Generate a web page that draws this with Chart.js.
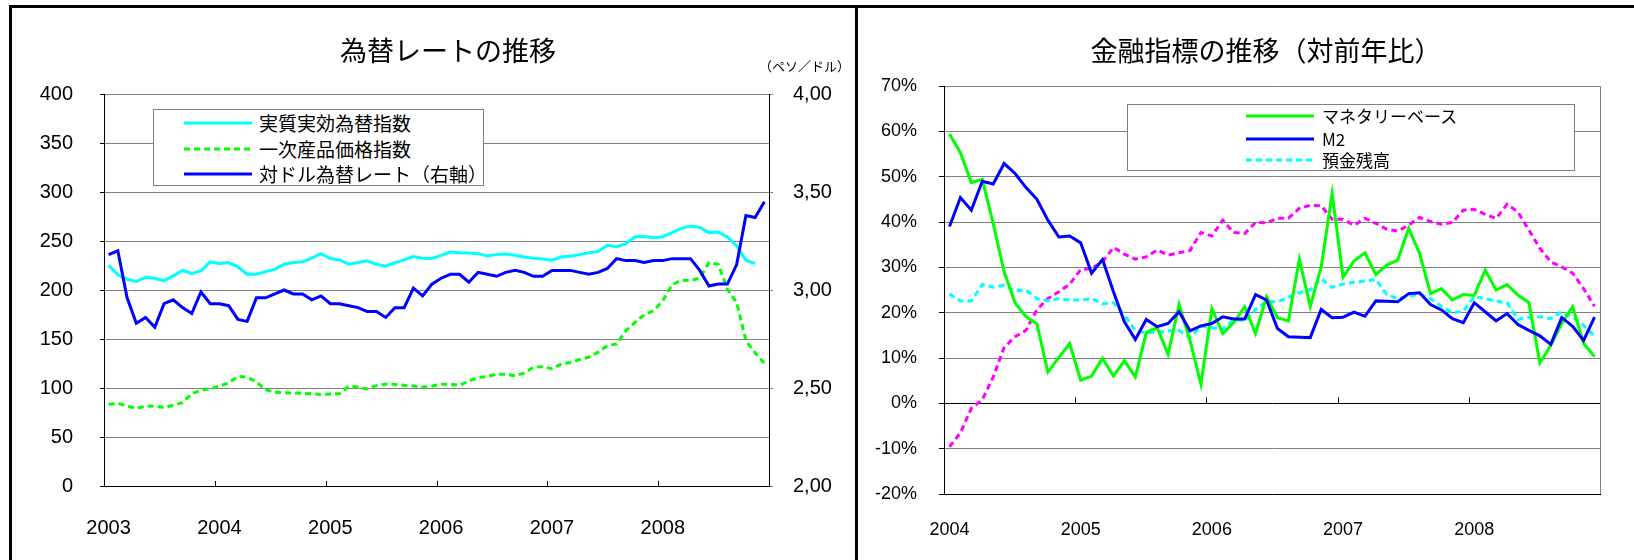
<!DOCTYPE html>
<html>
<head>
<meta charset="utf-8">
<script src="https://cdn.jsdelivr.net/npm/chart.js@4.4.1/dist/chart.umd.min.js"></script>
<style>
html,body{margin:0;padding:0;background:#fff;}
#page{position:relative;width:1634px;height:560px;overflow:hidden;background:#fff;}
.bar{position:absolute;background:#000;}
.cbox{position:absolute;top:0;height:560px;}
.title{position:absolute;font-family:"Noto Sans CJK JP",sans-serif;color:#000;white-space:nowrap;transform:translate(-50%,-50%);line-height:1;}
.unit{position:absolute;font-family:"Noto Sans CJK JP",sans-serif;color:#000;white-space:nowrap;line-height:1;}
.legend{position:absolute;border:1px solid #808080;background:#fff;box-sizing:border-box;}
.legend svg{position:absolute;}
.legend span{position:absolute;font-family:"Noto Sans CJK JP",sans-serif;color:#000;white-space:nowrap;}
</style>
</head>
<body>
<div id="page">
  <div class="bar" style="left:9px;top:5px;width:1625px;height:3px;"></div>
  <div class="bar" style="left:9px;top:5px;width:3px;height:555px;"></div>
  <div class="bar" style="left:855px;top:5px;width:3px;height:555px;"></div>

  <div class="cbox" style="left:0;width:855px;"><canvas id="c1" width="855" height="560"></canvas></div>
  <div class="cbox" style="left:858px;width:776px;"><canvas id="c2" width="776" height="560"></canvas></div>

  <div class="title" style="left:448px;top:49px;font-size:27px;">為替レートの推移</div>
  <div class="unit" style="left:759px;top:59px;font-size:13px;">（ペソ／ドル）</div>
  <div class="title" style="left:1266px;top:49px;font-size:27px;">金融指標の推移（対前年比）</div>

  <div class="legend" style="left:153px;top:109px;width:331px;height:77px;">
    <svg style="left:30px;top:10px" width="68" height="6"><line x1="0" y1="3" x2="68" y2="3" stroke="#00ffff" stroke-width="3"/></svg>
    <span style="left:105px;top:1px;font-size:19px;line-height:24px;">実質実効為替指数</span>
    <svg style="left:30px;top:36px" width="68" height="6"><line x1="0" y1="3" x2="68" y2="3" stroke="#00ff00" stroke-width="3" stroke-dasharray="6 4"/></svg>
    <span style="left:105px;top:27px;font-size:19px;line-height:24px;">一次産品価格指数</span>
    <svg style="left:30px;top:61px" width="68" height="6"><line x1="0" y1="3" x2="68" y2="3" stroke="#0000ff" stroke-width="3"/></svg>
    <span style="left:105px;top:52px;font-size:19px;line-height:24px;">対ドル為替レート（右軸）</span>
  </div>

  <div class="legend" style="left:1127px;top:104px;width:448px;height:67px;">
    <svg style="left:118px;top:8px" width="68" height="6"><line x1="0" y1="3" x2="68" y2="3" stroke="#00ff00" stroke-width="3"/></svg>
    <span style="left:194px;top:0px;font-size:17px;line-height:22px;">マネタリーベース</span>
    <svg style="left:118px;top:31px" width="68" height="6"><line x1="0" y1="3" x2="68" y2="3" stroke="#0000ff" stroke-width="3"/></svg>
    <span style="left:194px;top:23px;font-size:17px;line-height:22px;">M2</span>
    <svg style="left:118px;top:52px" width="68" height="6"><line x1="0" y1="3" x2="68" y2="3" stroke="#00ffff" stroke-width="3" stroke-dasharray="6 4"/></svg>
    <span style="left:194px;top:44px;font-size:17px;line-height:22px;">預金残高</span>
  </div>
</div>

<script>
// ---------- data ----------
const leftYears = ['2003','2004','2005','2006','2007','2008'];
const rightYears = ['2004','2005','2006','2007','2008'];

const leftAxisTicks = [0,50,100,150,200,250,300,350,400];
const rightAxisTicks = [2.0,2.5,3.0,3.5,4.0];
const pctAxisTicks = [-20,-10,0,10,20,30,40,50,60,70];

// 実質実効為替指数 (monthly 2003-01 .. 2008-12)
const realEffectiveIndex = [
  225.3,215.5,211.0,208.7,212.7,212.0,209.4,214.4,219.9,216.8,219.5,228.7,
  227.0,228.0,223.6,216.1,216.1,218.8,221.2,226.3,228.0,228.7,232.4,237.1,
  232.1,230.7,226.3,228.0,229.7,226.3,224.3,228.0,230.7,234.1,232.4,232.1,
  235.4,238.8,238.1,237.8,237.1,234.8,236.1,236.8,235.4,233.7,232.4,231.7,
  230.4,233.7,234.4,236.1,238.1,239.2,245.6,244.2,247.3,254.4,254.7,253.4,
  254.4,258.5,262.9,265.2,263.9,258.5,259.1,254.1,244.9,230.4,227.0,null
];
// 一次産品価格指数
const commodityIndex = [
  83.4,84.4,81.7,79.3,81.3,81.7,80.0,82.4,85.1,94.2,97.6,99.0,
  102.0,105.1,111.8,111.2,106.1,98.3,95.6,95.3,94.9,94.6,94.2,93.2,
  93.9,94.2,101.7,101.0,99.0,102.4,104.0,103.7,102.7,102.0,100.7,102.0,
  103.7,104.0,102.7,107.1,110.8,111.8,114.2,113.9,112.5,115.2,121.3,121.7,
  119.6,124.4,126.1,129.1,131.5,136.6,143.3,145.0,158.6,167.0,174.8,178.9,
  189.0,205.3,210.0,209.7,212.0,228.0,226.3,200.9,187.3,148.4,135.8,125.3
];
// 対ドル為替レート（ペソ／ドル, 右軸）
const pesoPerDollar = [
  3.18,3.20,2.96,2.83,2.86,2.81,2.93,2.95,2.91,2.88,2.99,2.93,
  2.93,2.92,2.85,2.84,2.96,2.96,2.98,3.00,2.98,2.98,2.95,2.97,
  2.93,2.93,2.92,2.91,2.89,2.89,2.86,2.91,2.91,3.01,2.97,3.03,
  3.06,3.08,3.08,3.04,3.09,3.08,3.07,3.09,3.10,3.09,3.07,3.07,
  3.10,3.10,3.10,3.09,3.08,3.09,3.11,3.16,3.15,3.15,3.14,3.15,
  3.15,3.16,3.16,3.16,3.10,3.02,3.03,3.03,3.13,3.38,3.37,3.45
];

// 金融指標 (monthly 2004-01 .. 2008-12, %)
const monetaryBase = [
  59.4,55.3,48.7,49.4,39.7,29.0,22.2,19.1,17.5,6.9,10.1,13.2,
  5.1,6.0,9.9,6.0,9.4,5.8,15.6,16.7,10.8,21.8,13.9,4.2,
  20.9,15.4,17.8,21.3,15.4,23.5,18.9,18.2,31.8,21.4,30.1,46.3,
  27.8,31.4,33.2,28.4,30.5,31.6,38.6,33.1,24.2,25.3,22.8,24.0,
  23.8,29.4,25.0,26.2,23.9,22.2,8.9,12.8,17.6,21.3,13.2,10.3
];
const m2 = [
  39.0,45.4,42.6,49.0,48.4,52.9,50.7,47.6,45.0,40.4,36.7,36.9,
  35.4,28.7,31.7,24.6,18.0,14.1,18.5,16.9,17.6,20.2,16.0,17.1,
  17.6,19.1,18.6,18.6,24.0,22.8,16.5,14.7,14.6,14.5,20.7,18.9,
  19.0,20.1,19.2,22.6,22.5,22.4,24.2,24.4,21.8,20.6,18.7,17.8,
  22.2,20.2,18.2,19.8,17.4,16.1,14.9,13.0,18.9,17.0,13.9,19.0
];
const deposits = [
  24.1,22.6,22.6,26.2,25.6,26.1,24.8,25.0,23.1,22.6,23.1,22.8,
  22.8,23.1,22.0,22.2,19.5,16.0,15.6,15.6,16.0,16.1,14.5,17.0,
  16.7,16.3,18.5,18.2,20.7,22.5,22.4,23.4,24.4,25.1,27.5,25.6,
  26.3,26.7,27.0,27.3,24.0,23.1,23.6,24.1,23.1,21.4,20.0,20.3,
  23.6,23.1,22.6,22.2,18.5,19.0,19.1,18.7,20.2,19.0,17.2,14.8
];
const unlabeledSeries = [
  -9.6,-6.5,-1.1,0.8,5.8,12.3,14.7,16.1,20.7,23.1,24.6,26.3,
  29.5,29.8,31.2,34.4,32.9,31.8,32.3,33.8,32.7,33.2,33.7,37.7,
  36.9,40.4,37.7,37.5,39.9,39.8,40.8,40.8,43.0,43.7,43.6,40.6,
  40.6,39.3,40.8,39.7,38.4,38.0,39.3,41.0,40.1,39.5,39.9,42.6,
  42.8,41.7,40.8,43.9,42.2,38.2,34.2,31.2,30.1,28.7,25.3,21.4
];

// ---------- helpers ----------
const monthLabels = years => years.flatMap(y => Array.from({length:12}, (_, m) => m === 0 ? y : ''));
const GRID = '#808080';
const TICKFONT = 'Liberation Sans, Arial, sans-serif';

const yearTicks = {
  id: 'yearTicks',
  afterDatasetsDraw(chart, args, opts) {
    const x = chart.scales.x, ctx = chart.ctx;
    const y0 = opts.atZero ? chart.scales.y.getPixelForValue(0) : chart.chartArea.bottom;
    ctx.save();
    ctx.strokeStyle = '#000';
    ctx.lineWidth = 1;
    const n = chart.data.labels.length;
    for (let i = 12; i < n; i += 12) {
      const px = Math.round((x.getPixelForValue(i - 1) + x.getPixelForValue(i)) / 2) + 0.5;
      ctx.beginPath();
      ctx.moveTo(px, y0);
      ctx.lineTo(px, y0 - opts.len);
      ctx.stroke();
    }
    ctx.restore();
  }
};
const frameRight = {
  id: 'frameRight',
  beforeDatasetsDraw(chart, args, opts) {
    if (!opts.color) return;
    const a = chart.chartArea, ctx = chart.ctx;
    ctx.save();
    ctx.strokeStyle = opts.color;
    ctx.lineWidth = 1;
    ctx.beginPath();
    ctx.moveTo(Math.round(a.right) + 0.5, a.top);
    ctx.lineTo(Math.round(a.right) + 0.5, a.bottom);
    ctx.stroke();
    ctx.restore();
  }
};
Chart.register(yearTicks, frameRight);

const line = (label, data, color, dashed, axis) => ({
  label, data, borderColor: color, backgroundColor: color,
  borderWidth: 3, borderDash: dashed ? [6, 4] : [], pointRadius: 0,
  tension: 0, fill: false, yAxisID: axis || 'y', spanGaps: false
});

// ---------- chart 1 ----------
new Chart(document.getElementById('c1'), {
  type: 'line',
  data: {
    labels: monthLabels(leftYears),
    datasets: [
      line('対ドル為替レート（右軸）', pesoPerDollar, '#0000ff', false, 'y1'),
      line('実質実効為替指数', realEffectiveIndex, '#00ffff', false),
      line('一次産品価格指数', commodityIndex, '#00ff00', true)
    ]
  },
  options: {
    responsive: false, animation: false, devicePixelRatio: 1,
    layout: { padding: { top: 94, left: 0, right: 0, bottom: 0 } },
    plugins: {
      legend: { display: false }, tooltip: { enabled: false },
      yearTicks: { atZero: false, len: 5 }, frameRight: { color: null }
    },
    scales: {
      x: {
        type: 'category', offset: true,
        grid: { display: false, drawTicks: false },
        border: { display: true, color: '#000', width: 1 },
        ticks: { autoSkip: false, maxRotation: 0, padding: 30, color: '#000', font: { family: TICKFONT, size: 20 } },
        afterFit: s => { s.height = 74; }
      },
      y: {
        position: 'left', min: 0, max: 400,
        afterBuildTicks: s => { s.ticks = leftAxisTicks.map(v => ({ value: v })); },
        grid: { color: GRID, lineWidth: 1, drawTicks: true, tickLength: 4, tickColor: '#000' },
        border: { display: true, color: '#000', width: 1 },
        ticks: { padding: 27, color: '#000', font: { family: TICKFONT, size: 20 } },
        afterFit: s => { s.width = 104; }
      },
      y1: {
        position: 'right', min: 2, max: 4,
        afterBuildTicks: s => { s.ticks = rightAxisTicks.map(v => ({ value: v })); },
        grid: { drawOnChartArea: false, drawTicks: true, tickLength: 4, color: GRID },
        border: { display: true, color: '#000', width: 1 },
        ticks: { padding: 20, color: '#000', font: { family: TICKFONT, size: 20 },
                 callback: v => v.toFixed(2).replace('.', ',') },
        afterFit: s => { s.width = 86; }
      }
    }
  }
});

// ---------- chart 2 ----------
new Chart(document.getElementById('c2'), {
  type: 'line',
  data: {
    labels: monthLabels(rightYears),
    datasets: [
      line('M2', m2, '#0000ff', false),
      line('マネタリーベース', monetaryBase, '#00ff00', false),
      line('預金残高', deposits, '#00ffff', true),
      line('', unlabeledSeries, '#ff00ff', true)
    ]
  },
  options: {
    responsive: false, animation: false, devicePixelRatio: 1,
    layout: { padding: { top: 86, left: 0, right: 34, bottom: 0 } },
    plugins: {
      legend: { display: false }, tooltip: { enabled: false },
      yearTicks: { atZero: true, len: 6 }, frameRight: { color: GRID }
    },
    scales: {
      x: {
        type: 'category', offset: true,
        grid: { display: false, drawTicks: false },
        border: { display: true, color: '#000', width: 1 },
        ticks: { autoSkip: false, maxRotation: 0, padding: 25, color: '#000', font: { family: TICKFONT, size: 18 } },
        afterFit: s => { s.height = 66; }
      },
      y: {
        position: 'left', min: -20, max: 70,
        afterBuildTicks: s => { s.ticks = pctAxisTicks.map(v => ({ value: v })); },
        grid: { color: c => (c.tick && c.tick.value === 0) ? '#000' : GRID, lineWidth: 1, drawTicks: true, tickLength: 5, tickColor: '#000' },
        border: { display: true, color: '#000', width: 1 },
        ticks: { padding: 22, color: '#000', font: { family: TICKFONT, size: 18 }, callback: v => v + '%' },
        afterFit: s => { s.width = 86; }
      }
    }
  }
});
</script>
</body>
</html>
